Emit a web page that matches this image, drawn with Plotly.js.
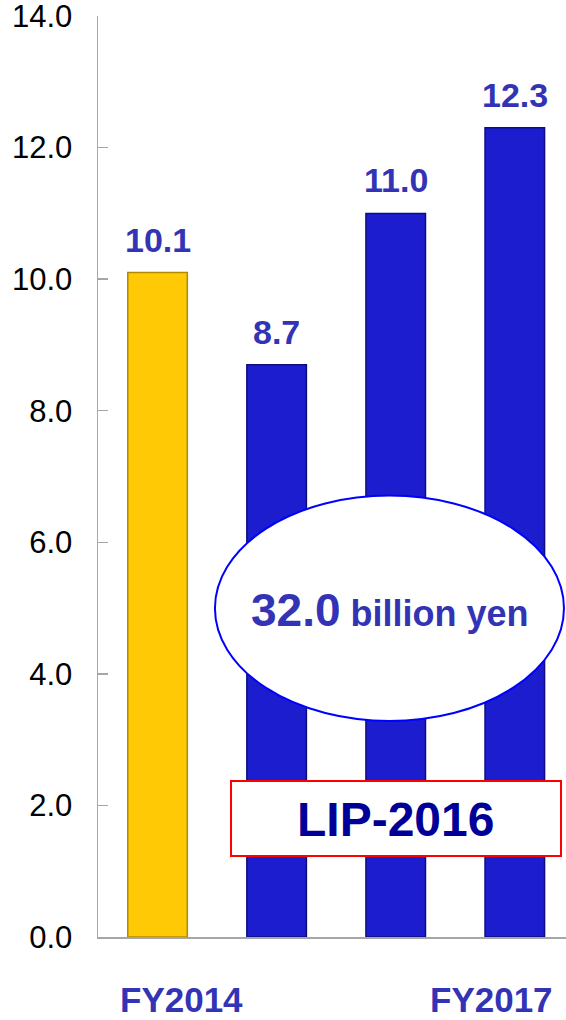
<!DOCTYPE html>
<html>
<head>
<meta charset="utf-8">
<script src="https://cdn.plot.ly/plotly-3.0.1.min.js"></script>
<style>html,body{margin:0;padding:0;background:#fff;}#chart{width:566px;height:1020px;}</style>
</head>
<body>
<div id="chart"></div>
<script>
const categories = ["FY2014", "FY2015", "FY2016", "FY2017"];
const values = [10.1, 8.7, 11.0, 12.3];
const valueLabels = ["10.1", "8.7", "11.0", "12.3"];
const barColors = ["#FFCA05", "#1D1DD0", "#1D1DD0", "#1D1DD0"];
const barEdges = ["#B08A00", "#0D0D80", "#0D0D80", "#0D0D80"];
const yTickVals = [0, 2, 4, 6, 8, 10, 12, 14];
const yTickText = ["0.0", "2.0", "4.0", "6.0", "8.0", "10.0", "12.0", "14.0"];
const shownCategoryLabels = ["FY2014", "FY2017"];
const totalText = "32.0";
const totalUnit = "billion yen";
const planName = "LIP-2016";

const idx = categories.map((c, i) => i);
const labelBlue = "#3333B5";
const FONT = "Liberation Sans, Arial, sans-serif";

const trace = {
  type: "bar",
  x: idx,
  y: values,
  width: 0.5,
  marker: { color: barColors, line: { color: barEdges, width: 1.5 } },
  hoverinfo: "skip",
  showlegend: false
};

const annotations = [];
idx.forEach(i => {
  annotations.push({
    x: i, y: values[i], xref: "x", yref: "y",
    text: "<b>" + valueLabels[i] + "</b>",
    showarrow: false, yanchor: "middle", yshift: 33,
    font: { family: FONT, size: 34, color: labelBlue }
  });
});
// category labels below the axis (only first and last shown)
const labelOffsets = { "FY2014": 0.205, "FY2017": -0.192 };
shownCategoryLabels.forEach(lbl => {
  const i = categories.indexOf(lbl);
  annotations.push({
    x: i + labelOffsets[lbl], y: 0, xref: "x", yref: "y",
    text: "<b>" + lbl + "</b>",
    showarrow: false, yanchor: "middle", yshift: -62, borderpad: 0,
    font: { family: FONT, size: 35, color: labelBlue }
  });
});
annotations.push({
  x: 1.952, y: 4.97, xref: "x", yref: "y",
  text: "<b><span style='font-size:46px'>" + totalText + "</span> <span style='font-size:36px'>" + totalUnit + "</span></b>",
  showarrow: false, yanchor: "middle", xanchor: "center",
  font: { family: FONT, size: 36, color: labelBlue }
});
annotations.push({
  x: 2.002, y: 1.79, xref: "x", yref: "y",
  text: "<b>" + planName + "</b>",
  showarrow: false, yanchor: "middle", xanchor: "center",
  font: { family: FONT, size: 48, color: "#000099" }
});

const shapes = [
  { type: "circle", xref: "x", yref: "y", x0: 0.482, x1: 3.413, y0: 3.285, y1: 6.71,
    fillcolor: "#FFFFFF", line: { color: "#0000FF", width: 2 }, layer: "above" },
  { type: "rect", xref: "x", yref: "y", x0: 0.617, x1: 3.388, y0: 1.23, y1: 2.37,
    fillcolor: "#FFFFFF", line: { color: "#FF0000", width: 2 }, layer: "above" }
];

const layout = {
  width: 566, height: 1020,
  margin: { l: 98, r: 0, t: 16, b: 83 },
  paper_bgcolor: "#FFFFFF", plot_bgcolor: "#FFFFFF",
  showlegend: false,
  xaxis: {
    range: [-0.5, 3.43], showgrid: false, zeroline: false,
    showline: true, linecolor: "#A6A6A6", linewidth: 1.5,
    showticklabels: false, ticks: "", fixedrange: true
  },
  yaxis: {
    range: [0, 14.0005], tickvals: yTickVals, ticktext: yTickText,
    showgrid: false, zeroline: false,
    showline: true, linecolor: "#A6A6A6", linewidth: 1.5,
    ticks: "inside", ticklen: 10, tickcolor: "#A6A6A6", tickwidth: 1.5,
    ticklabelstandoff: 18, ticklabeloverflow: "allow",
    tickfont: { family: FONT, size: 31, color: "#000000" },
    fixedrange: true
  },
  annotations: annotations,
  shapes: shapes
};

Plotly.newPlot("chart", [trace], layout, { displayModeBar: false, staticPlot: true });
</script>
</body>
</html>
